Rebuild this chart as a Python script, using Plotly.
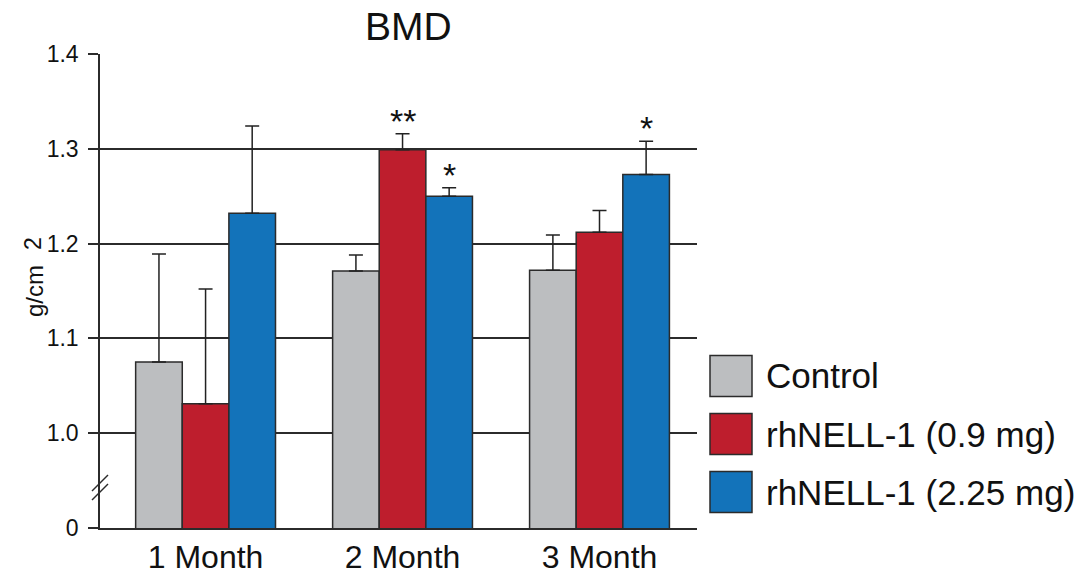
import plotly.graph_objects as go

categories = ["1 Month", "2 Month", "3 Month"]
series_names = ["Control", "rhNELL-1 (0.9 mg)", "rhNELL-1 (2.25 mg)"]
control_mean = [1.075, 1.171, 1.172]
control_err = [0.114, 0.017, 0.037]
low_mean = [1.031, 1.299, 1.212]
low_err = [0.121, 0.017, 0.023]
high_mean = [1.232, 1.250, 1.273]
high_err = [0.092, 0.009, 0.035]
ytick_vals = [0.9, 1.0, 1.1, 1.2, 1.3, 1.4]
ytick_text = ["0", "1.0", "1.1", "1.2", "1.3", "1.4"]
# significance marks: (series index, category index, text)
sig_marks = [(1, 1, "**"), (2, 1, "*"), (2, 2, "*")]

colors = ["#BCBEC0", "#BE1E2D", "#1373BA"]
edge = "#2b2b2b"
FONT = "Liberation Sans, Arial, Helvetica, sans-serif"

means = [control_mean, low_mean, high_mean]
errs = [control_err, low_err, high_err]

# layout geometry (pixels)
W, H = 1078, 574
L, R, T, B = 100, 697, 54, 528
BARGAP = 0.29


def px(xp):
    return (xp - L) / (R - L)


def py(yp):
    return (B - yp) / (B - T)


fig = go.Figure()
xs = list(range(len(categories)))
for i in range(3):
    fig.add_trace(go.Bar(
        x=xs, y=means[i], name=series_names[i],
        marker=dict(color=colors[i], line=dict(color=edge, width=1.5)),
        error_y=dict(type="data", array=errs[i], arrayminus=[0] * 3,
                     symmetric=False, color="#222222", thickness=1.5, width=7),
        showlegend=False,
    ))

annotations = []
bw = (1 - BARGAP) / 3
for si, ci, txt in sig_marks:
    annotations.append(dict(
        x=ci + (si - 1) * bw, y=means[si][ci] + errs[si][ci], xref="x", yref="y",
        text=txt, showarrow=False, yanchor="bottom", yshift=-8,
        font=dict(family=FONT, size=34, color="#111111"),
    ))

# title
annotations.append(dict(x=px(408), y=py(27), xref="paper", yref="paper",
                        text="BMD", showarrow=False, xanchor="center", yanchor="middle",
                        font=dict(family=FONT, size=39, color="#111111")))
# y title
annotations.append(dict(x=px(34), y=py(291), xref="paper", yref="paper",
                        text="g/cm", textangle=-90, showarrow=False,
                        xanchor="center", yanchor="middle",
                        font=dict(family=FONT, size=24, color="#111111")))
annotations.append(dict(x=px(33), y=py(244), xref="paper", yref="paper",
                        text="2", textangle=-90, showarrow=False,
                        xanchor="center", yanchor="middle",
                        font=dict(family=FONT, size=23, color="#111111")))

shapes = []
# legend
row_centers = [376, 434, 492]
for i, yc in enumerate(row_centers):
    shapes.append(dict(type="rect", xref="paper", yref="paper",
                       x0=px(710), x1=px(752), y0=py(yc + 20.5), y1=py(yc - 20.5),
                       fillcolor=colors[i], line=dict(color=edge, width=1.5)))
    annotations.append(dict(x=px(764), y=py(yc), xref="paper", yref="paper",
                            text=series_names[i], showarrow=False,
                            xanchor="left", yanchor="middle",
                            font=dict(family=FONT, size=35, color="#111111")))
# axis break marks
for dy in (0, 9):
    shapes.append(dict(type="line", xref="paper", yref="paper",
                       x0=px(92), y0=py(491 + dy), x1=px(108), y1=py(475 + dy),
                       line=dict(color=edge, width=1.5)))

fig.update_layout(
    width=W, height=H,
    margin=dict(l=L, r=W - R, t=T, b=H - B, pad=0),
    paper_bgcolor="white", plot_bgcolor="white",
    barmode="group", bargap=BARGAP, bargroupgap=0,
    font=dict(family=FONT, color="#111111"),
    xaxis=dict(range=[-0.536, 2.495], tickvals=xs, ticktext=categories,
               showline=True, linecolor=edge, linewidth=1.5, ticks="",
               showgrid=False, zeroline=False, automargin=False,
               tickfont=dict(family=FONT, size=32, color="#111111")),
    yaxis=dict(range=[0.9, 1.4], tickvals=ytick_vals, ticktext=ytick_text,
               showline=True, linecolor=edge, linewidth=1.5,
               ticks="outside", ticklen=10, tickwidth=1.5, tickcolor=edge,
               showgrid=True, gridcolor=edge, gridwidth=1.5, zeroline=False,
               automargin=False, ticklabelstandoff=5,
               tickfont=dict(family=FONT, size=23, color="#111111")),
    shapes=shapes, annotations=annotations,
)

fig.write_html("out.html", config={"displayModeBar": False},
               post_script="document.body.style.margin='0';document.body.style.padding='0';")
